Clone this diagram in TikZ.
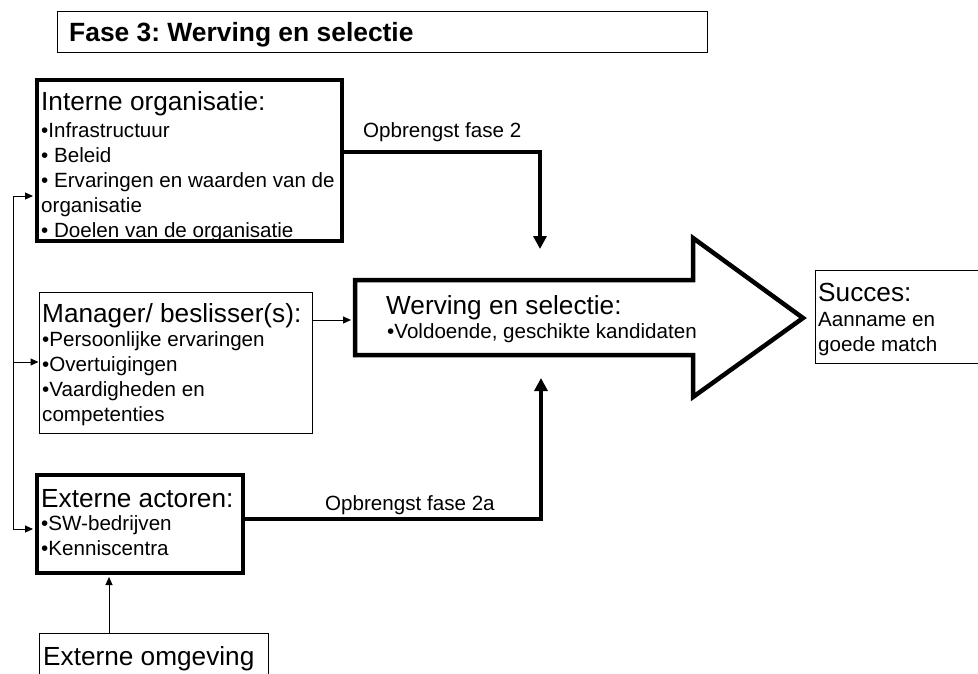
\documentclass[tikz,border=0pt]{standalone}
\usepackage{fontspec}
\setmainfont{Liberation Sans}
\usetikzlibrary{arrows.meta}
\frenchspacing
\newcommand{\hdfont}{\fontsize{26.2}{30}\selectfont}
\newcommand{\blfont}{\fontsize{20.6}{24.8}\selectfont}
\begin{document}
\begin{tikzpicture}[x=1pt,y=-1pt,
  thinbox/.style={draw=black,line width=1pt,inner sep=0pt},
  thickbox/.style={draw=black,line width=4pt,inner sep=0pt},
  head/.style={inner sep=0pt,anchor=base west,font=\hdfont},
  bullets/.style={inner sep=0pt,anchor=base west,align=left,font=\blfont},
  lbl/.style={inner sep=0pt,anchor=base west,font=\blfont},
  thickarrow/.style={line width=4pt,-{Triangle[length=13pt,width=13pt]}},
  thinarrow/.style={line width=1pt,-{Triangle[length=8pt,width=7pt]}},
]
\useasboundingbox (0,0) rectangle (978,673);
\clip (0,0) rectangle (978,673);

% title
\node[thinbox,minimum width=650pt,minimum height=41pt] (title) at (382,31.5) {};
\node[inner sep=0pt,anchor=base west,font=\fontsize{26.4}{30}\selectfont\bfseries] (titletext) at (69,41) {Fase 3: Werving en selectie};

% Interne organisatie
\node[thickbox,minimum width=305pt,minimum height=161pt] (int) at (189.5,160.5) {};
\node[head] (inth) at (41,110) {Interne organisatie:};
\node[bullets] (intb) at (41,237) {•Infrastructuur\\• Beleid\\• Ervaringen en waarden van de\\organisatie\\• Doelen van de organisatie};

% Manager
\node[thinbox,minimum width=273pt,minimum height=141pt] (mgr) at (175.5,362.5) {};
\node[head] (mgrh) at (42,322) {Manager/ beslisser(s):};
\node[bullets] (mgrb) at (42,421) {•Persoonlijke ervaringen\\•Overtuigingen\\•Vaardigheden en\\competenties};

% Externe actoren
\node[thickbox,minimum width=206pt,minimum height=98pt] (act) at (140,524) {};
\node[head] (acth) at (41,507) {Externe actoren:};
\node[bullets] (actb) at (41,555) {•SW-bedrijven\\•Kenniscentra};

% Externe omgeving
\node[thinbox,minimum width=229pt,minimum height=60pt] (omg) at (153.5,663) {};
\node[head] (omgh) at (43,665) {Externe omgeving};

% Succes
\node[thinbox,minimum width=180pt,minimum height=93pt] (suc) at (905,316.5) {};
\node[head] (such) at (818,301) {Succes:};
\node[bullets] (sucb) at (818,351) {Aanname en\\goede match};

% big arrow
\draw[line width=4.5pt,line join=miter] (355,280) -- (693,280) -- (693,238) -- (803,318) -- (693,397) -- (693,355) -- (355,355) -- cycle;
\node[head] (wsh) at (386,314) {Werving en selectie:};
\node[lbl] (wsb) at (387,338) {•Voldoende, geschikte kandidaten};

% coordinates
\coordinate (f2row) at (0,152);
\coordinate (f2end) at (540,249);
\coordinate (f2arow) at (0,519);
\coordinate (f2aend) at (541,378);
\coordinate (mrow) at (0,320);
\coordinate (arrin) at (351,320);
\coordinate (lb1) at (13,196);
\coordinate (lb2) at (13,362);
\coordinate (lb3) at (13,529);
\coordinate (ox) at (109,0);

% connectors
\draw[thickarrow] (int.east |- f2row) -| (f2end);
\node[lbl] (f2lbl) at (363,137) {Opbrengst fase 2};
\draw[thickarrow] (act.east |- f2arow) -| (f2aend);
\node[lbl] (f2albl) at (325,510) {Opbrengst fase 2a};
\draw[thinarrow] (mgr.east |- mrow) -- (arrin);
\draw[line width=1pt] (lb1) -- (lb3);
\draw[thinarrow,shorten >=2pt] (lb1) -- (int.west |- lb1);
\draw[thinarrow] (lb2) -- (mgr.west |- lb2);
\draw[thinarrow,shorten >=2pt] (lb3) -- (act.west |- lb3);
\draw[thinarrow,shorten >=2pt] (omg.north -| ox) -- (act.south -| ox);
\end{tikzpicture}
\end{document}
